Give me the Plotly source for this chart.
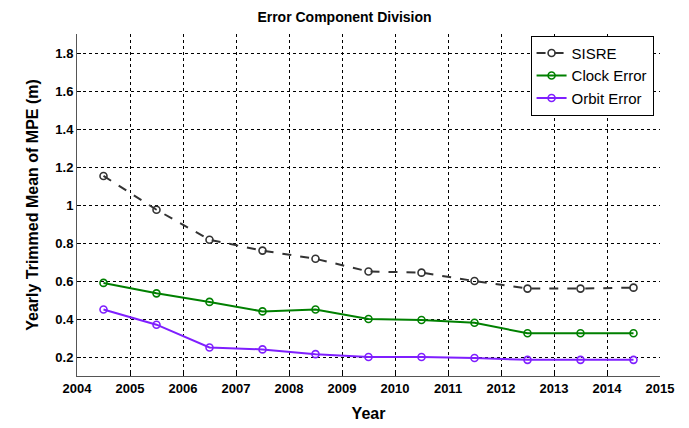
import plotly.graph_objects as go

years = [2004.5, 2005.5, 2006.5, 2007.5, 2008.5, 2009.5, 2010.5, 2011.5, 2012.5, 2013.5, 2014.5]
sisre = [1.153, 0.975, 0.817, 0.76, 0.717, 0.65, 0.644, 0.60, 0.56, 0.56, 0.565]
clock = [0.59, 0.535, 0.49, 0.44, 0.45, 0.40, 0.395, 0.38, 0.325, 0.325, 0.325]
orbit = [0.45, 0.37, 0.25, 0.24, 0.215, 0.20, 0.20, 0.195, 0.185, 0.185, 0.185]
xticks = list(range(2004, 2016))
yticks = [0.2, 0.4, 0.6, 0.8, 1.0, 1.2, 1.4, 1.6, 1.8]
ytick_labels = ["0.2", "0.4", "0.6", "0.8", "1", "1.2", "1.4", "1.6", "1.8"]

FONT = "Liberation Sans, Arial, sans-serif"

fig = go.Figure()
fig.add_trace(go.Scatter(x=years, y=sisre, name="SISRE", mode="lines+markers",
                         line=dict(color="#333333", width=2, dash="dash"),
                         marker=dict(symbol="circle-open", size=7, color="#333333", line=dict(width=1.6))))
fig.add_trace(go.Scatter(x=years, y=clock, name="Clock Error", mode="lines+markers",
                         line=dict(color="#008000", width=2),
                         marker=dict(symbol="circle-open", size=7, color="#008000", line=dict(width=1.6))))
fig.add_trace(go.Scatter(x=years, y=orbit, name="Orbit Error", mode="lines+markers",
                         line=dict(color="#7F1FFF", width=2),
                         marker=dict(symbol="circle-open", size=7, color="#7F1FFF", line=dict(width=1.6))))

fig.update_layout(
    width=689, height=428,
    margin=dict(l=77, r=29, t=34, b=52),
    paper_bgcolor="white", plot_bgcolor="white",
    font=dict(family=FONT, color="black"),
    title=dict(text="<b>Error Component Division</b>", x=0.5, xanchor="center", y=0.96, yanchor="middle",
               font=dict(size=14, family=FONT)),
    legend=dict(x=0.778, y=0.995, xanchor="left", yanchor="top", bgcolor="white",
                bordercolor="black", borderwidth=1, font=dict(size=15),
                itemwidth=30, tracegroupgap=0),
    showlegend=True,
)
fig.update_xaxes(range=[2004, 2015], tickvals=xticks, ticktext=["<b>%d</b>" % t for t in xticks],
                 showgrid=True, gridcolor="black", griddash="dot", gridwidth=1,
                 showline=True, linecolor="#555555", linewidth=1, mirror=False,
                 ticks="inside", ticklen=4, tickcolor="black", zeroline=False,
                 tickfont=dict(size=13, family=FONT), automargin=False,
                 title=dict(text="<b>Year</b>", font=dict(size=16), standoff=13))
fig.update_yaxes(range=[0.1, 1.9], tickvals=yticks, ticktext=["<b>%s</b>" % t for t in ytick_labels],
                 showgrid=True, gridcolor="black", griddash="dot", gridwidth=1,
                 showline=True, linecolor="#555555", linewidth=1,
                 ticks="inside", ticklen=4, tickcolor="black", zeroline=False,
                 tickfont=dict(size=13, family=FONT), automargin=False,
                 title=dict(text="<b>Yearly Trimmed Mean of MPE (m)</b>", font=dict(size=16), standoff=12))
fig.write_html("out.html")
